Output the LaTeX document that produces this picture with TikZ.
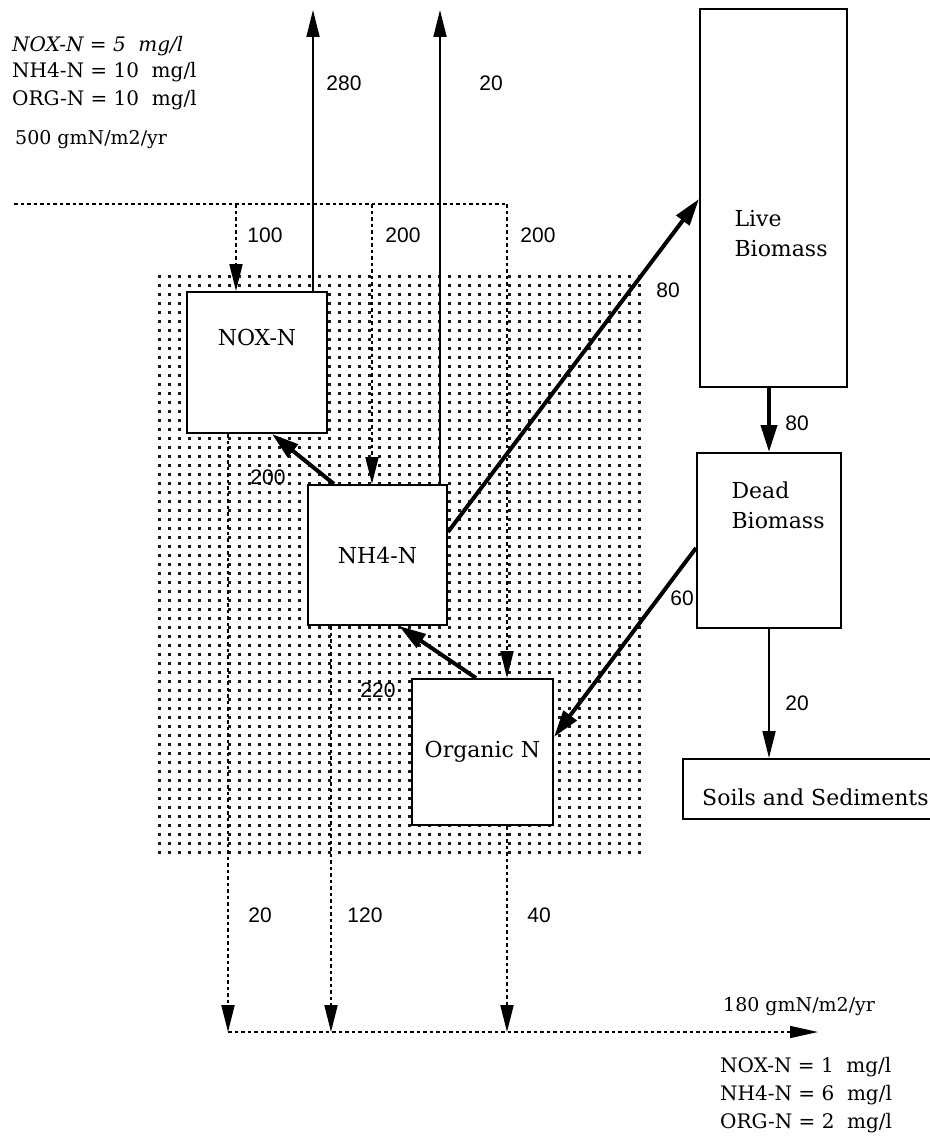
\documentclass[tikz,border=0pt]{standalone}
\usepackage{fontspec}
\setmainfont{DejaVu Serif}
\newfontfamily\numfont{Liberation Sans}
\usetikzlibrary{arrows.meta,calc}
\begin{document}
\begin{tikzpicture}[x=1pt,y=-1pt,
  box/.style={draw, line width=2pt, fill=white, inner sep=0pt},
  lbl/.style={font=\fontsize{22}{30}\selectfont},
  leg/.style={font=\fontsize{20}{24}\selectfont, anchor=west, inner sep=0pt},
  num/.style={font=\numfont\fontsize{21}{24}\selectfont, inner sep=0pt},
  dotline/.style={line width=2pt, dash pattern=on 3.5pt off 3pt},
  dtip/.style={-{Triangle[length=27pt,width=13pt]}},
  bigarrow/.style={line width=4pt, -{Triangle[length=27pt,width=16pt]}},
  thinarrow/.style={line width=1.8pt, -{Triangle[length=27pt,width=13pt]}},
  stipple/.style={black!90, line width=3pt, dash pattern=on 3pt off 7pt},
]
\useasboundingbox (0,0) rectangle (929,1137);

% stippled region
\foreach \r in {0,...,64} {
  \draw[stipple] (158,276+9*\r) -- (642,276+9*\r);
}

% boxes
\node[box, minimum width=140pt, minimum height=141pt] (nox) at (257,362.5) {};
\node[lbl] (noxl) at (257,337) {NOX-N};
\node[box, lbl, minimum width=139pt, minimum height=140pt] (nh4) at (377.5,555) {NH4-N};
\node[box, lbl, minimum width=141pt, minimum height=146pt] (org) at (482.5,752) {Organic N};
\node[box, minimum width=147pt, minimum height=378pt] (live) at (773.5,198) {};
\node[lbl, align=left, anchor=west] (livel) at (731,234) {Live\\Biomass};
\node[box, minimum width=144pt, minimum height=175pt] (dead) at (769,540.5) {};
\node[lbl, align=left, anchor=west] (deadl) at (728,505) {Dead\\Biomass};
\node[box, minimum width=260pt, minimum height=60pt] (soil) at (813,789) {};
\node[lbl, anchor=west, inner sep=0pt] (soill) at (702,797) {Soils and Sediments};

% top inflow
\coordinate (tl) at (14,204);
\coordinate (tr) at (507,204);
\coordinate (c1) at (236,204);
\coordinate (c2) at (372,204);
\draw[dotline] (tl) -- (tr);
\draw[dotline, dtip] (c1) -- (c1 |- nox.north);
\draw[dotline, dtip] (c2) -- (c2 |- nh4.north);
\draw[dotline, dtip] (tr) -- (tr |- org.north);
\node[num] (n100) at (265,235) {100};
\node[num] (n200a) at (403,235) {200};
\node[num] (n200b) at (538,235) {200};

% outflows upward
\coordinate (up1) at (313,10);
\coordinate (up2) at (440,10);
\draw[thinarrow] (up1 |- nox.north) -- (up1);
\draw[thinarrow] (up2 |- nh4.north) -- (up2);
\node[num] (n280) at (344,83) {280};
\node[num] (n20a) at (491,83) {20};

% internal transfers
\draw[bigarrow] ($(nh4.north west)+(27,0)$) -- ($(nox.south west)+(86,0)$);
\node[num] (n200c) at (268,477) {200};
\draw[bigarrow] ($(org.north west)+(65,0)$) -- ($(nh4.south west)+(92,0)$);
\node[num] (n220) at (378,690) {220};
\draw[bigarrow] ($(nh4.north east)+(0,48)$) -- ($(live.north west)+(0,191)$);
\node[num] (n80a) at (668,290) {80};
\draw[bigarrow] (dead.north |- live.south) -- (dead.north);
\node[num] (n80b) at (797,423) {80};
\draw[bigarrow] ($(dead.north west)+(0,96)$) -- ($(org.north east)+(0,59)$);
\node[num] (n60) at (682,598) {60};
\draw[thinarrow] (dead.south) -- (dead.south |- soil.north);
\node[num] (n20b) at (797,703) {20};

% bottom outflow
\coordinate (b1) at (228,1032);
\coordinate (b2) at (331,1032);
\coordinate (b3) at (507,1032);
\coordinate (bend) at (818,1032);
\draw[dotline, dtip] (b1 |- nox.south) -- (b1);
\draw[dotline, dtip] (b2 |- nh4.south) -- (b2);
\draw[dotline, dtip] (b3 |- org.south) -- (b3);
\draw[dotline] (b1) -- ($(bend)+(-20,0)$);
\draw[line width=1.6pt, -{Triangle[length=28pt,width=12pt]}] ($(bend)+(-30,0)$) -- (bend);
\node[num] (n20c) at (260,915) {20};
\node[num] (n120) at (365,915) {120};
\node[num] (n40) at (539,915) {40};

% legends
\node[leg, font=\itshape\fontsize{20}{24}\selectfont] (i1) at (12,46) {NOX-N = 5\ \ mg/l};
\node[leg] (i2) at (12,72) {NH4-N = 10\ \ mg/l};
\node[leg] (i3) at (12,100) {ORG-N = 10\ \ mg/l};
\node[leg, font=\fontsize{19}{22}\selectfont] (i4) at (15,140) {500 gmN/m2/yr};
\node[leg, font=\fontsize{19}{22}\selectfont] (o0) at (723,1007) {180 gmN/m2/yr};
\node[leg] (o1) at (720,1067) {NOX-N = 1\ \ mg/l};
\node[leg] (o2) at (720,1095) {NH4-N = 6\ \ mg/l};
\node[leg] (o3) at (720,1123) {ORG-N = 2\ \ mg/l};
\end{tikzpicture}
\end{document}
